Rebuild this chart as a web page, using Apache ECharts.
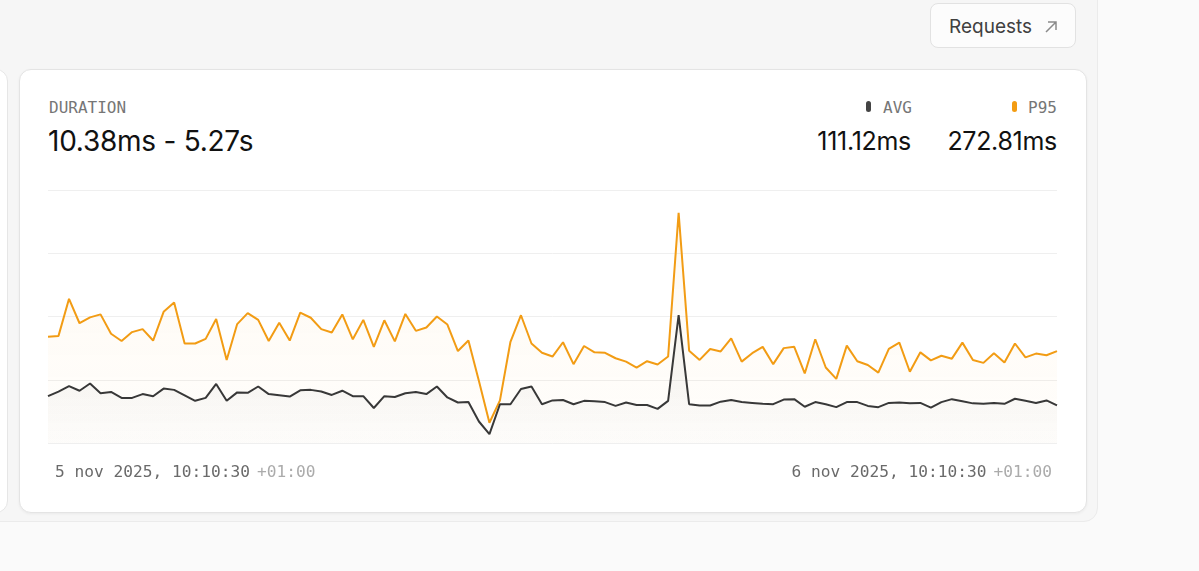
<!DOCTYPE html>
<html>
<head>
<meta charset="utf-8">
<script src="https://cdn.jsdelivr.net/npm/echarts@6/dist/echarts.min.js"></script>
<style>
  html, body { margin: 0; padding: 0; }
  body { width: 1199px; height: 571px; overflow: hidden; background: #fafafa; position: relative; font-family: Inter, "Noto Sans", sans-serif; }
  .abs { position: absolute; box-sizing: border-box; }
  .container { left: -20px; top: -20px; width: 1118px; height: 542px; background: #f6f6f6; border: 1px solid #ebebeb; border-radius: 14px; }
  .leftcard { left: -100px; top: 69px; width: 108px; height: 444px; background: #fff; border: 1px solid #e6e6e6; border-radius: 12px; }
  .card { left: 19px; top: 69px; width: 1068px; height: 444px; background: #fff; border: 1px solid #e4e4e4; border-radius: 12px; box-shadow: 0 1px 3px rgba(0,0,0,0.05); }
  .btn { left: 930px; top: 3px; width: 146px; height: 45px; background: #fcfcfc; border: 1px solid #e2e2e2; border-radius: 8px; }
  .btntext { left: 949px; top: 15px; font-size: 19px; line-height: 24px; color: #404040; }
  .mono { font-family: "DejaVu Sans Mono", monospace; font-size: 16px; line-height: 16px; color: #767676; }
  .big { font-family: Inter, sans-serif; line-height: 30px; color: #111; white-space: nowrap; }
  .pill { width: 5px; height: 11px; border-radius: 3px; }
  #chart { left: 0; top: 0; width: 1199px; height: 571px; z-index: 5; }
</style>
</head>
<body>
<div class="abs container"></div>
<div class="abs leftcard"></div>
<div class="abs card"></div>
<div class="abs btn"></div>
<div class="abs btntext">Requests</div>
<svg class="abs" style="left:1043px;top:19px;" width="16" height="16" viewBox="0 0 16 16">
  <path d="M3 13 L13 3 M5 3 L13 3 L13 11" fill="none" stroke="#8a8a8a" stroke-width="1.5"/>
</svg>

<div class="abs mono" style="left:49px;top:100px;">DURATION</div>
<div class="abs big" style="left:48px;top:126px;font-size:28px;letter-spacing:-0.25px;">10.38ms - 5.27s</div>

<div class="abs pill" style="left:866px;top:101px;background:#444;"></div>
<div class="abs mono" style="right:287px;top:100px;">AVG</div>
<div class="abs pill" style="left:1012px;top:101px;background:#f39c12;"></div>
<div class="abs mono" style="right:142px;top:100px;">P95</div>

<div class="abs big" style="right:288px;top:126px;font-size:25px;letter-spacing:-0.3px;">111.12ms</div>
<div class="abs big" style="right:142px;top:126px;font-size:25px;letter-spacing:-0.3px;">272.81ms</div>

<div id="chart" class="abs"></div>
<script>
const tickLabels = ['5 nov 2025, 10:10:30', '6 nov 2025, 10:10:30'];
const tzLabel = '+01:00';

const p95Values = [
  252, 254, 342, 284, 298, 305, 259, 242, 263, 270,
  243, 311, 333, 236, 236, 247, 294, 197, 282, 308,
  292, 242, 285, 243, 309, 297, 270, 262, 305, 246,
  292, 228, 291, 241, 306, 266, 274, 300, 281, 218,
  243, 147, 48, 101, 240, 303, 236, 214, 205, 239,
  187, 230, 215, 214, 201, 193, 179, 194, 186, 205,
  546, 219, 197, 223, 217, 248, 193, 213, 228, 187,
  225, 228, 165, 246, 179, 152, 231, 194, 185, 167,
  223, 238, 169, 215, 196, 207, 200, 238, 197, 190,
  213, 191, 236, 203, 212, 208, 218
];

const avgValues = [
  111, 122, 135, 124, 141, 118, 121, 107, 107, 116,
  111, 129, 126, 113, 100, 107, 140, 100, 120, 119,
  134, 116, 113, 110, 125, 126, 122, 114, 124, 111,
  111, 83, 111, 109, 118, 121, 116, 134, 108, 96,
  97, 51, 21, 92, 92, 128, 134, 92, 101, 102,
  92, 100, 99, 97, 88, 96, 90, 90, 81, 100,
  303, 92, 89, 89, 98, 102, 97, 95, 93, 92,
  103, 104, 86, 97, 92, 85, 97, 97, 88, 85,
  95, 96, 94, 95, 84, 97, 104, 99, 94, 93,
  95, 93, 105, 100, 95, 101, 89
];

// categories: one bucket every 15 minutes from the start tick
const categories = [];
for (let i = 0; i < p95Values.length; i++) {
  const m = 10 * 60 + 10 + i * 15;
  const h = Math.floor(m / 60) % 24, mm = m % 60;
  categories.push((h < 10 ? '0' : '') + h + ':' + (mm < 10 ? '0' : '') + mm);
}
const lastIndex = categories.length - 1;

const chart = echarts.init(document.getElementById('chart'), null, { renderer: 'canvas' });
const mono = '"DejaVu Sans Mono", monospace';
const fs = 16.2;
chart.setOption({
  animation: false,
  backgroundColor: 'transparent',
  grid: { left: 48, right: 142, top: 190, bottom: 128 },
  xAxis: {
    type: 'category',
    data: categories,
    boundaryGap: false,
    axisLine: { show: false },
    axisTick: { show: false },
    splitLine: { show: false },
    axisLabel: {
      interval: function (i) { return i === 0 || i === lastIndex; },
      showMinLabel: true,
      showMaxLabel: true,
      alignMinLabel: 'left',
      alignMaxLabel: 'right',
      margin: 22,
      formatter: function (v, i) {
        return i === 0 ? '{a|' + tickLabels[0] + '}{t|' + tzLabel + '}'
                       : '{d|' + tickLabels[1] + '}{u|' + tzLabel + '}';
      },
      rich: {
        a: { fontFamily: mono, fontSize: fs, color: '#6a6a6a', padding: [0, 0, 0, 7] },
        d: { fontFamily: mono, fontSize: fs, color: '#6a6a6a' },
        t: { fontFamily: mono, fontSize: fs, color: '#ababab', padding: [0, 0, 0, 7] },
        u: { fontFamily: mono, fontSize: fs, color: '#ababab', padding: [0, 5, 0, 7] }
      }
    }
  },
  yAxis: {
    type: 'value',
    min: 0, max: 600, interval: 150,
    axisLabel: { show: false },
    axisLine: { show: false },
    axisTick: { show: false },
    splitLine: { show: true, lineStyle: { color: '#efefef', width: 1 } }
  },
  series: [
    {
      name: 'P95', type: 'line', data: p95Values, symbol: 'none', z: 2,
      lineStyle: { color: '#f29c14', width: 2 },
      itemStyle: { color: '#f29c14' },
      areaStyle: {
        color: { type: 'linear', x: 0, y: 212, x2: 0, y2: 443, global: true,
          colorStops: [{ offset: 0, color: 'rgba(243,156,18,0.08)' }, { offset: 1, color: 'rgba(243,156,18,0.02)' }] }
      }
    },
    {
      name: 'AVG', type: 'line', data: avgValues, symbol: 'none', z: 3,
      lineStyle: { color: '#383838', width: 2 },
      itemStyle: { color: '#383838' },
      areaStyle: {
        color: { type: 'linear', x: 0, y: 380, x2: 0, y2: 443, global: true,
          colorStops: [{ offset: 0, color: 'rgba(60,60,60,0.055)' }, { offset: 1, color: 'rgba(60,60,60,0.01)' }] }
      }
    }
  ]
});
</script>
</body>
</html>
